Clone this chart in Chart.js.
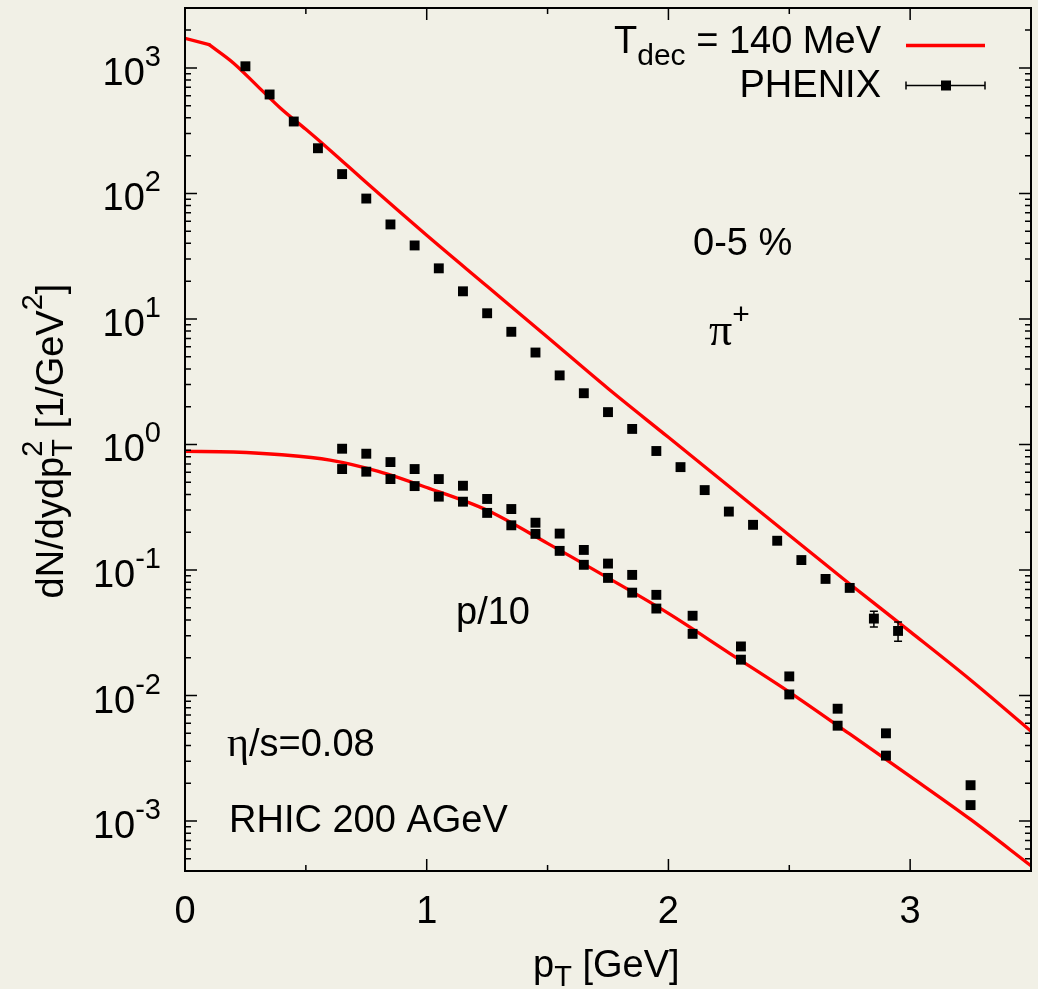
<!DOCTYPE html>
<html lang="en">
<head>
<meta charset="UTF-8">
<title>pT spectra, RHIC 200 AGeV</title>
<script src="https://cdn.jsdelivr.net/npm/chart.js"></script>
<style>
  html, body { margin: 0; padding: 0; background: #f1f0e6; }
  #chart { display: block; }
</style>
</head>
<body>
<canvas id="chart" width="1038" height="989"></canvas>
<script>
// PHENIX pi+ points
const piX = [0.25, 0.35, 0.45, 0.55, 0.65, 0.75, 0.85, 0.95, 1.05, 1.15, 1.25, 1.35, 1.45, 1.55,
             1.65, 1.75, 1.85, 1.95, 2.05, 2.15, 2.25, 2.35, 2.45, 2.55, 2.65, 2.75, 2.85, 2.95];
const piY = [1030, 614, 374, 229, 142.5, 91, 56.6, 38.5, 25.3, 16.6, 11.1, 7.9, 5.4, 3.55,
             2.56, 1.81, 1.33, 0.887, 0.66, 0.433, 0.292, 0.229, 0.171, 0.120, 0.0849, 0.072, 0.041, 0.0327];
// error bars (only visible at high pT)
const piErrX = [2.65, 2.75, 2.85, 2.95];
const piErrLo = [0.080, 0.068, 0.0351, 0.0271];
const piErrHi = [0.090, 0.076, 0.0470, 0.0386];

// PHENIX protons / 10 (two sets)
const pX = [0.65, 0.75, 0.85, 0.95, 1.05, 1.15, 1.25, 1.35, 1.45, 1.55, 1.65, 1.75, 1.85, 1.95,
            2.1, 2.3, 2.5, 2.7, 2.9, 3.25];
const pUpY = [0.925, 0.844, 0.724, 0.637, 0.530, 0.469, 0.368, 0.306, 0.238, 0.195, 0.1445, 0.1125, 0.0914, 0.0634,
              0.0432, 0.0246, 0.0142, 0.00785, 0.0050, 0.00193];
const pLoY = [0.637, 0.607, 0.530, 0.466, 0.384, 0.350, 0.285, 0.227, 0.194, 0.142, 0.110, 0.0865, 0.066, 0.0493,
              0.031, 0.0193, 0.0102, 0.00575, 0.00332, 0.00134];

// hydro curves, T_dec = 140 MeV
const piCurveX = [0, 0.1, 0.2, 0.3, 0.4, 0.5, 0.6, 0.75, 1.0, 1.25, 1.5, 1.75, 2.0, 2.25, 2.5, 2.75, 3.0, 3.25, 3.5];
const piCurveY = [1718, 1531, 1096, 716, 468, 324, 221, 122, 46.4, 18.2, 7.14, 2.79, 1.14, 0.464, 0.189, 0.0774, 0.0323, 0.0133, 0.0052];
const pCurveX = [0, 0.2, 0.4, 0.6, 0.8, 1.0, 1.25, 1.5, 1.75, 2.0, 2.25, 2.5, 2.75, 3.0, 3.25, 3.5];
const pCurveY = [0.881, 0.871, 0.828, 0.75, 0.61, 0.454, 0.299, 0.163, 0.0865, 0.0451, 0.0219, 0.01066, 0.00494, 0.00227, 0.00103, 0.00044];

// axes
const xTicks = [0, 1, 2, 3];
const xMinorTicks = [0.5, 1.5, 2.5, 3.5];
const yTickExps = [-3, -2, -1, 0, 1, 2, 3];

const SANS = '"Liberation Sans", Arial, Helvetica, sans-serif';
const SERIF = '"Liberation Serif", "Times New Roman", serif';
const BG = '#f1f0e6';

function pts(xs, ys) {
    return xs.map(function (v, i) { return { x: v, y: ys[i] }; });
}

// draw text made of pieces (sub/superscripts); parts: [text, size, dy, family, noAdvance]
function rich(ctx, x, y, parts, align) {
    let w = 0;
    parts.forEach(function (p) {
        ctx.font = p[1] + 'px ' + (p[3] || SANS);
        p.w = ctx.measureText(p[0]).width;
        if (!p[4]) w += p.w;
    });
    let cx = x;
    if (align === 'right') cx = x - w;
    if (align === 'center') cx = x - w / 2;
    ctx.textAlign = 'left';
    ctx.textBaseline = 'alphabetic';
    parts.forEach(function (p) {
        ctx.font = p[1] + 'px ' + (p[3] || SANS);
        ctx.fillText(p[0], cx, y + (p[2] || 0));
        if (!p[4]) cx += p.w;
    });
}

const fundo = {
    id: 'fundo',
    beforeDraw(chart) {
        const ctx = chart.ctx;
        ctx.save();
        ctx.fillStyle = BG;
        ctx.fillRect(0, 0, chart.width, chart.height);
        ctx.restore();
    }
};

const errorBars = {
    id: 'errorBars',
    afterDatasetsDraw(chart) {
        const { ctx, scales: { x, y } } = chart;
        ctx.save();
        ctx.strokeStyle = '#000';
        ctx.lineWidth = 1.5;
        for (let i = 0; i < piErrX.length; i++) {
            const px = x.getPixelForValue(piErrX[i]);
            const lo = y.getPixelForValue(piErrLo[i]);
            const hi = y.getPixelForValue(piErrHi[i]);
            ctx.beginPath();
            ctx.moveTo(px, lo); ctx.lineTo(px, hi);
            ctx.moveTo(px - 4, lo); ctx.lineTo(px + 4, lo);
            ctx.moveTo(px - 4, hi); ctx.lineTo(px + 4, hi);
            ctx.stroke();
        }
        ctx.restore();
    }
};

const moldura = {
    id: 'moldura',
    afterDraw(chart) {
        const { ctx, chartArea: a, scales: { x, y } } = chart;
        ctx.save();
        ctx.strokeStyle = '#000';
        ctx.fillStyle = '#000';

        // ticks inward, all four sides
        ctx.lineWidth = 1.5;
        ctx.beginPath();
        xTicks.forEach(function (v) {
            const px = x.getPixelForValue(v);
            ctx.moveTo(px, a.bottom); ctx.lineTo(px, a.bottom - 12);
            ctx.moveTo(px, a.top); ctx.lineTo(px, a.top + 12);
        });
        xMinorTicks.forEach(function (v) {
            const px = x.getPixelForValue(v);
            ctx.moveTo(px, a.bottom); ctx.lineTo(px, a.bottom - 6);
            ctx.moveTo(px, a.top); ctx.lineTo(px, a.top + 6);
        });
        for (let e = -4; e <= 3; e++) {
            for (let m = 1; m <= 9; m++) {
                const v = m * Math.pow(10, e);
                if (v < y.min || v > y.max) continue;
                const py = y.getPixelForValue(v);
                const len = m === 1 ? 12 : 6;
                ctx.moveTo(a.left, py); ctx.lineTo(a.left + len, py);
                ctx.moveTo(a.right, py); ctx.lineTo(a.right - len, py);
            }
        }
        ctx.stroke();

        // frame
        ctx.lineWidth = 2;
        ctx.strokeRect(a.left, a.top, a.right - a.left, a.bottom - a.top);

        // tick labels
        ctx.font = '38px ' + SANS;
        ctx.textAlign = 'center';
        ctx.textBaseline = 'alphabetic';
        xTicks.forEach(function (v) {
            ctx.fillText(String(v), x.getPixelForValue(v), 923);
        });
        yTickExps.forEach(function (e) {
            const py = y.getPixelForValue(Math.pow(10, e));
            rich(ctx, 161, py + 17, [['10', 38, 0], [String(e), 29, -19]], 'right');
        });

        // axis titles
        rich(ctx, 533, 977, [['p', 38, 0], ['T', 29, 9], [' [GeV]', 38, 0]], 'left');
        ctx.save();
        ctx.translate(63, 441);
        ctx.rotate(-Math.PI / 2);
        rich(ctx, 0, 0, [['dN/dydp', 38, 0], ['2', 29, -21, SANS, true], ['T', 29, 9], [' [1/GeV', 38, 0], ['2', 29, -21], [']', 38, 0]], 'center');
        ctx.restore();

        // labels inside
        rich(ctx, 693, 255, [['0-5 %', 38, 0]], 'left');
        rich(ctx, 709, 345, [['\u03c0', 46, 0, SERIF], ['+', 30, -21]], 'left');
        rich(ctx, 456, 624, [['p/10', 38, 0]], 'left');
        rich(ctx, 227, 756, [['\u03b7', 42, 0, SERIF], ['/s=0.08', 38, 0]], 'left');
        rich(ctx, 229, 832, [['RHIC 200 AGeV', 38, 0]], 'left');

        // key
        rich(ctx, 881, 53, [['T', 38, 0], ['dec', 30, 12], [' = 140 MeV', 38, 0]], 'right');
        rich(ctx, 881, 97, [['PHENIX', 38, 0]], 'right');
        ctx.strokeStyle = '#ff0000';
        ctx.lineWidth = 3.3;
        ctx.beginPath();
        ctx.moveTo(906, 45.5); ctx.lineTo(985, 45.5);
        ctx.stroke();
        ctx.strokeStyle = '#000';
        ctx.lineWidth = 1.5;
        ctx.beginPath();
        ctx.moveTo(906, 85.5); ctx.lineTo(985, 85.5);
        ctx.moveTo(906, 81.5); ctx.lineTo(906, 89.5);
        ctx.moveTo(985, 81.5); ctx.lineTo(985, 89.5);
        ctx.stroke();
        ctx.fillStyle = '#000';
        ctx.fillRect(941, 80.5, 10, 10);

        ctx.restore();
    }
};

const pontos = { pointStyle: 'rect', pointRadius: 7, pointBorderWidth: 0, backgroundColor: '#000', borderColor: '#000', showLine: false };
const curva = { showLine: true, pointRadius: 0, borderColor: '#ff0000', borderWidth: 3.3, fill: false, borderCapStyle: 'round', borderJoinStyle: 'round' };

new Chart(document.getElementById('chart'), {
    type: 'scatter',
    data: {
        datasets: [
            Object.assign({ label: 'PHENIX pi+', data: pts(piX, piY), order: 1 }, pontos),
            Object.assign({ label: 'PHENIX p/10', data: pts(pX, pUpY), order: 1 }, pontos),
            Object.assign({ label: 'PHENIX p/10 (2)', data: pts(pX, pLoY), order: 1 }, pontos),
            // first step of the pion curve is a straight segment (kink at 0.1 GeV)
            Object.assign({ label: 'T_dec = 140 MeV', data: pts(piCurveX.slice(0, 2), piCurveY.slice(0, 2)), order: 2, tension: 0 }, curva),
            Object.assign({ label: 'T_dec = 140 MeV pi', data: pts(piCurveX.slice(1), piCurveY.slice(1)), order: 2, cubicInterpolationMode: 'monotone' }, curva),
            Object.assign({ label: 'T_dec = 140 MeV p', data: pts(pCurveX, pCurveY), order: 2, cubicInterpolationMode: 'monotone' }, curva)
        ]
    },
    options: {
        responsive: false,
        animation: false,
        layout: { padding: { left: 0, right: 7, top: 8, bottom: 0 } },
        plugins: { legend: { display: false }, tooltip: { enabled: false } },
        scales: {
            x: {
                type: 'linear', min: 0, max: 3.5,
                grid: { display: false }, border: { display: false },
                ticks: { display: false },
                afterFit(s) { s.height = 118; }
            },
            y: {
                type: 'logarithmic', min: 4e-4, max: 3000,
                grid: { display: false }, border: { display: false },
                ticks: { display: false },
                afterFit(s) { s.width = 185; }
            }
        }
    },
    plugins: [fundo, errorBars, moldura]
});
</script>
</body>
</html>
